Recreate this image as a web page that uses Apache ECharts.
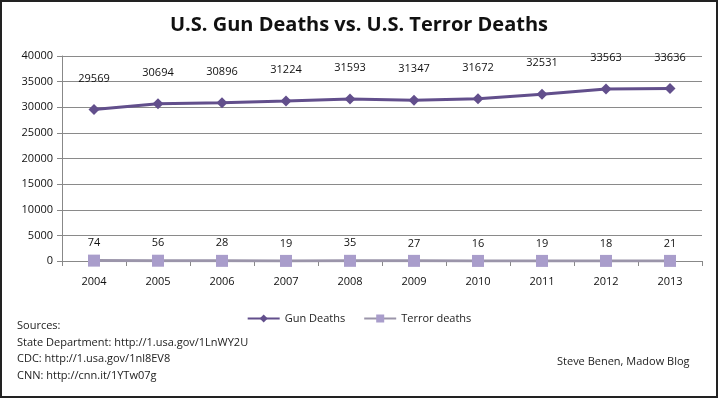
<!DOCTYPE html>
<html><head><meta charset="utf-8">
<script src="https://cdn.jsdelivr.net/npm/echarts@6/dist/echarts.min.js"></script>
<style>html,body{margin:0;padding:0;background:#fff}#c{width:718px;height:398px;box-sizing:border-box;border:2px solid #222}</style>
</head><body><div id="c"></div>
<script>
const years = ['2004','2005','2006','2007','2008','2009','2010','2011','2012','2013'];
const gunDeaths = [29569,30694,30896,31224,31593,31347,31672,32531,33563,33636];
const terrorDeaths = [74,56,28,19,35,27,16,19,18,21];
const yTicks = [0,5000,10000,15000,20000,25000,30000,35000,40000];
const titleText = 'U.S. Gun Deaths vs. U.S. Terror Deaths';
const sourcesText = 'Sources:\nState Department: http://1.usa.gov/1LnWY2U\nCDC: http://1.usa.gov/1nl8EV8\nCNN: http://cnn.it/1YTw07g';
const creditText = 'Steve Benen, Madow Blog';

const font = '"Open Sans", "DejaVu Sans", sans-serif';
const chart = echarts.init(document.getElementById('c'), null, {renderer:'canvas'});
chart.setOption({
  animation:false,
  textStyle:{fontFamily:font},
  title:{text:titleText,left:'center',top:8,textStyle:{fontFamily:font,fontWeight:'bold',fontSize:20,color:'#111'}},
  graphic:[
    {type:'text',left:15,top:316,style:{text:sourcesText,font:'11px '+font,fill:'#222',lineHeight:16.5}},
    {type:'text',left:555,top:354,style:{text:creditText,font:'11px '+font,fill:'#222'}}
  ],
  legend:{data:['Gun Deaths','Terror deaths'],top:306,left:'center',itemWidth:32,itemHeight:10,itemGap:18,
    textStyle:{fontFamily:font,fontSize:11,color:'#222'}},
  grid:{left:60,right:14,top:54,bottom:135},
  xAxis:{type:'category',data:years,boundaryGap:true,
    axisLine:{lineStyle:{color:'#888'}},
    axisTick:{show:true,length:5,lineStyle:{color:'#888'}},
    axisLabel:{color:'#111',fontSize:11,margin:15,fontFamily:font}},
  yAxis:{type:'value',min:0,max:40000,interval:5000,
    axisLine:{show:true,lineStyle:{color:'#888'}},
    axisTick:{show:true,length:5,lineStyle:{color:'#888'}},
    splitLine:{lineStyle:{color:'#8a8a8a'}},
    axisLabel:{color:'#111',fontSize:11,margin:9,fontFamily:font,
      formatter:v=>yTicks.includes(v)?String(v):''}},
  series:[
    {name:'Gun Deaths',type:'line',data:gunDeaths,symbol:'diamond',symbolSize:11,
      lineStyle:{color:'#624f8c',width:3},itemStyle:{color:'#624f8c'},
      label:{show:true,position:'top',distance:20,color:'#111',fontSize:11,fontFamily:font}},
    {name:'Terror deaths',type:'line',data:terrorDeaths,symbol:'rect',symbolSize:12,
      lineStyle:{color:'#9b95aa',width:3},itemStyle:{color:'#a99dcb'},
      label:{show:true,position:'top',distance:6,color:'#111',fontSize:11,fontFamily:font}}
  ]
});
</script></body></html>
